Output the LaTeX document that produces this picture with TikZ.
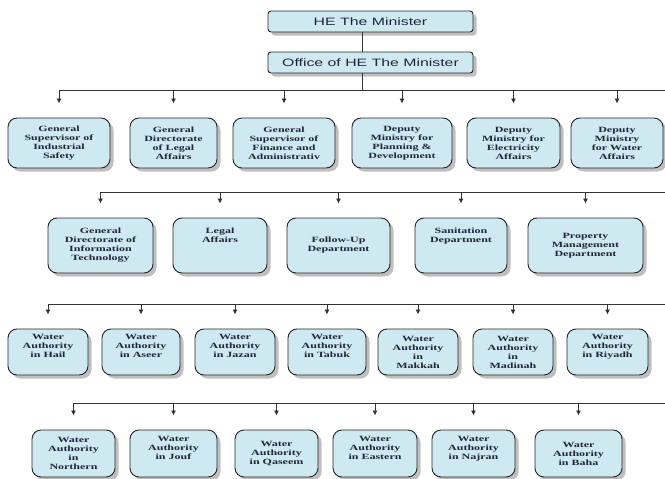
\documentclass[tikz,border=0pt]{standalone}
\usepackage{fontspec}
\setmainfont{Liberation Serif}[FakeStretch=1.5]
\newfontfamily\headfont{Liberation Sans}[FakeStretch=1.48]
\usetikzlibrary{shadows,arrows.meta}
\definecolor{boxfill}{RGB}{206,233,239}
\definecolor{boxtext}{RGB}{32,38,62}
\begin{document}
\begin{tikzpicture}[x=1pt,y=-1pt]
  \tikzstyle{box}=[draw=black!85,line width=0.9pt,fill=boxfill,rounded corners=9pt,
                   align=center,text=boxtext,inner sep=1pt,
                   font=\bfseries\fontsize{8}{9}\selectfont,
                   drop shadow={shadow xshift=3.5pt,shadow yshift=-3.5pt,fill=black!50}]
  \tikzstyle{head}=[box,rounded corners=3pt,minimum width=205pt,minimum height=21pt,
                    font=\headfont\fontsize{10.7}{12}\selectfont]
  \tikzstyle{row1}=[box,minimum height=50pt]
  \tikzstyle{row2}=[box,minimum height=55pt]
  \tikzstyle{row3}=[box,minimum height=46pt]
  \tikzstyle{row4}=[box,minimum height=47pt]
  \tikzstyle{bus}=[line width=0.8pt,draw=black!80]
  \tikzstyle{arr}=[bus,-{Latex[length=5pt,width=5pt]},shorten >=14pt]
  \useasboundingbox (0,0) rectangle (665,479);

  \node[head] (m) at (370.5,21.5) {HE The Minister};
  \node[head] (off) at (370.5,62.5) {Office of HE The Minister};

  \node[row1,minimum width=102pt] (a1) at (59,143) {General\\Supervisor of\\Industrial\\Safety};
  \node[row1,minimum width=87pt] (a2) at (173.5,143) {General\\Directorate\\of Legal\\Affairs};
  \node[row1,minimum width=102pt] (a3) at (284,143) {General\\Supervisor of\\Finance and\\Administrativ};
  \node[row1,minimum width=100pt] (a4) at (402,143) {Deputy\\Ministry for\\Planning \&\\Development};
  \node[row1,minimum width=93pt] (a5) at (513.5,143) {Deputy\\Ministry for\\Electricity\\Affairs};
  \node[row1,minimum width=92pt] (a6) at (617,143) {Deputy\\Ministry\\for Water\\Affairs};

  \node[row2,minimum width=105pt] (b1) at (100.5,245.5) {General\\Directorate of\\Information\\Technology};
  \node[row2,minimum width=94pt] (b2) at (220,245.5) {Legal\\Affairs\\\strut\\\strut};
  \node[row2,minimum width=103pt] (b3) at (338.5,245.5) {Follow-Up\\Department};
  \node[row2,minimum width=92pt] (b4) at (461,245.5) {Sanitation\\Department\\\strut\\\strut};
  \node[row2,minimum width=115pt] (b5) at (585.5,245.5) {Property\\Management\\Department};

  \node[row3,minimum width=80pt] (c1) at (48,352) {Water\\Authority\\in Hail\\\strut};
  \node[row3,minimum width=78pt] (c2) at (141,352) {Water\\Authority\\in Aseer\\\strut};
  \node[row3,minimum width=80pt] (c3) at (235,352) {Water\\Authority\\in Jazan\\\strut};
  \node[row3,minimum width=78pt] (c4) at (327,352) {Water\\Authority\\in Tabuk\\\strut};
  \node[row3,minimum width=80pt] (c5) at (418,352) {Water\\Authority\\in\\Makkah};
  \node[row3,minimum width=80pt] (c6) at (513,352) {Water\\Authority\\in\\Madinah};
  \node[row3,minimum width=81pt] (c7) at (607.5,352) {Water\\Authority\\in Riyadh\\\strut};

  \node[row4,minimum width=83pt] (d1) at (73.5,453.5) {Water\\Authority\\in\\Northern};
  \node[row4,minimum width=87pt] (d2) at (173.5,453.5) {Water\\Authority\\in Jouf\\\strut};
  \node[row4,minimum width=83pt] (d3) at (276.5,453.5) {Water\\Authority\\in Qaseem};
  \node[row4,minimum width=84pt] (d4) at (375,453.5) {Water\\Authority\\in Eastern\\\strut};
  \node[row4,minimum width=83pt] (d5) at (473.5,453.5) {Water\\Authority\\in Najran\\\strut};
  \node[row4,minimum width=87pt] (d6) at (578.5,453.5) {Water\\Authority\\in Baha};

  \coordinate (e1) at (665,90);
  \coordinate (e2) at (665,192);
  \coordinate (e3) at (665,304);
  \coordinate (e4) at (665,403);

  \draw[bus] ([xshift=-8.5pt]m.south) -- ([xshift=-8.5pt]off.north);
  \draw[bus] ([xshift=-8.5pt]off.south) -- ([xshift=-8.5pt]off.south |- e1);

  \draw[bus] (a1.north |- e1) -- (e1);
  \draw[arr] (a1.north |- e1) -- (a1.north);
  \draw[arr] (a2.north |- e1) -- (a2.north);
  \draw[arr] (a3.north |- e1) -- (a3.north);
  \draw[arr] (a4.north |- e1) -- (a4.north);
  \draw[arr] (a5.north |- e1) -- (a5.north);
  \draw[arr] (a6.north |- e1) -- (a6.north);

  \draw[bus] (b1.north |- e2) -- (e2);
  \draw[arr] (b1.north |- e2) -- (b1.north);
  \draw[arr] (b2.north |- e2) -- (b2.north);
  \draw[arr] (b3.north |- e2) -- (b3.north);
  \draw[arr] (b4.north |- e2) -- (b4.north);
  \draw[arr] (b5.north |- e2) -- (b5.north);

  \draw[bus] (c1.north |- e3) -- (e3);
  \draw[arr] (c1.north |- e3) -- (c1.north);
  \draw[arr] (c2.north |- e3) -- (c2.north);
  \draw[arr] (c3.north |- e3) -- (c3.north);
  \draw[arr] (c4.north |- e3) -- (c4.north);
  \draw[arr] (c5.north |- e3) -- (c5.north);
  \draw[arr] (c6.north |- e3) -- (c6.north);
  \draw[arr] (c7.north |- e3) -- (c7.north);

  \draw[bus] (d1.north |- e4) -- (e4);
  \draw[arr] (d1.north |- e4) -- (d1.north);
  \draw[arr] (d2.north |- e4) -- (d2.north);
  \draw[arr] (d3.north |- e4) -- (d3.north);
  \draw[arr] (d4.north |- e4) -- (d4.north);
  \draw[arr] (d5.north |- e4) -- (d5.north);
  \draw[arr] (d6.north |- e4) -- (d6.north);
\end{tikzpicture}
\end{document}
